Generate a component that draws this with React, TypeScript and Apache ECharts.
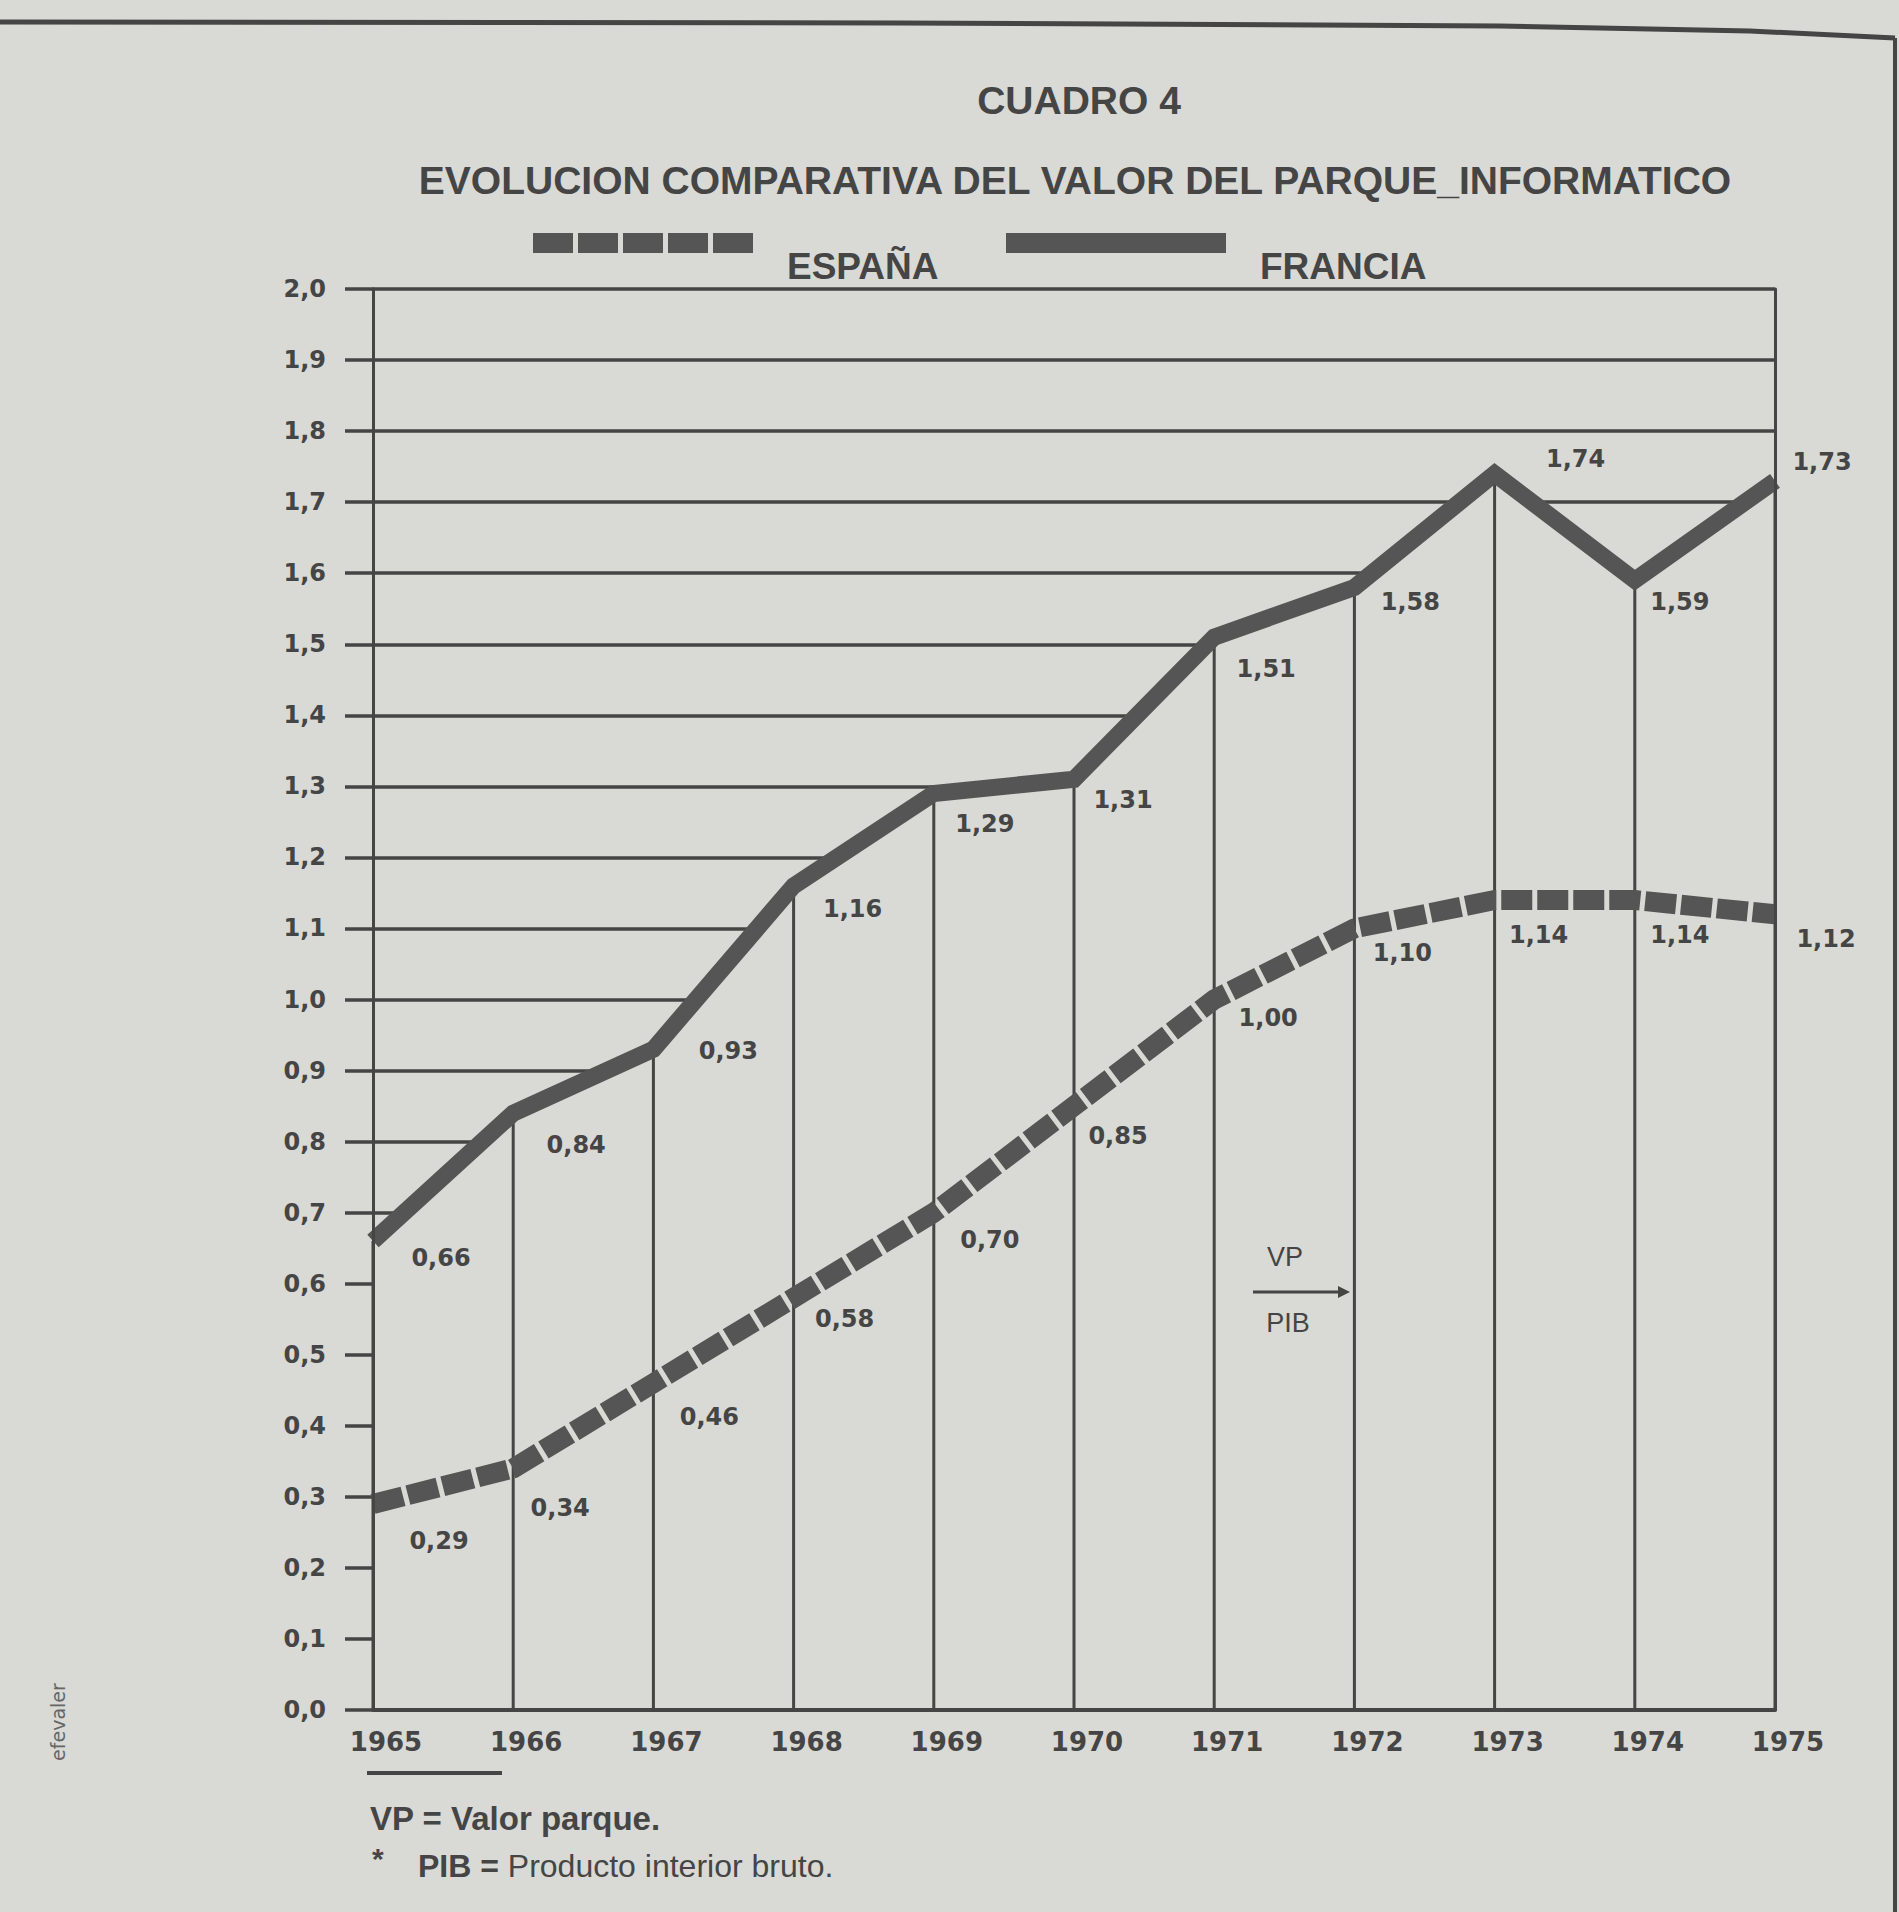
import React, { useEffect, useRef } from 'react';
import * as echarts from 'echarts';

// ---------- data ----------
const years = ['1965', '1966', '1967', '1968', '1969', '1970', '1971', '1972', '1973', '1974', '1975'];
const franciaValues = [0.66, 0.84, 0.93, 1.16, 1.29, 1.31, 1.51, 1.58, 1.74, 1.59, 1.73];
const espanaValues = [0.29, 0.34, 0.46, 0.58, 0.70, 0.85, 1.00, 1.10, 1.14, 1.14, 1.12];
const yTickLabels = ['0,0', '0,1', '0,2', '0,3', '0,4', '0,5', '0,6', '0,7', '0,8', '0,9', '1,0',
  '1,1', '1,2', '1,3', '1,4', '1,5', '1,6', '1,7', '1,8', '1,9', '2,0'];

// label nudges (pixels, relative to the point)
const franciaLabelOffsets = [[68, 17], [63, 32], [75, 2], [59, 23], [51, 31], [49, 21], [52, 32], [56, 15], [81, -15], [45, 22], [47, -19]];
const espanaLabelOffsets = [[66, 37], [47, 40], [56, 34], [51, 21], [56, 27], [44, 30], [54, 18], [48, 25], [44, 35], [45, 35], [51, 25]];

const BG = '#d9d9d5';
const INK = '#454545';
const LINE = '#555555';
const NUM_FONT = 'DejaVu Sans';
const TXT_FONT = 'Liberation Sans';

const fmt = (v: number) => v.toFixed(2).replace('.', ',');

const dashedIcon = 'path://M0 0H40V20H0Z M45 0H85V20H45Z M90 0H130V20H90Z M135 0H175V20H135Z M180 0H220V20H180Z';

function buildOption() {
  const numLabel = {
    show: true,
    position: 'inside',
    fontFamily: NUM_FONT,
    fontWeight: 'bold',
    fontSize: 24,
    color: INK,
  };
  const legendCommon = {
    top: 233,
    itemWidth: 220,
    itemHeight: 20,
    padding: 0,
    selectedMode: false,
    itemStyle: { color: LINE, borderWidth: 0 },
    formatter: (name: string) => `{t|${name}}`,
    textStyle: {
      fontFamily: TXT_FONT,
      fontWeight: 'bold',
      fontSize: 37,
      color: INK,
      rich: {
        t: {
          fontFamily: TXT_FONT,
          fontWeight: 'bold',
          fontSize: 37,
          color: INK,
          padding: [46, 0, 0, 29],
        },
      },
    },
  };
  const borderAxis = (position: string) => ({
    type: 'value',
    min: 0,
    max: 2,
    position,
    axisLine: { show: true, lineStyle: { color: INK, width: 3 } },
    axisTick: { show: false },
    axisLabel: { show: false },
    splitLine: { show: false },
    z: 5,
  });
  return {
    animation: false,
    backgroundColor: BG,
    title: [
      {
        text: 'CUADRO 4',
        left: 1079,
        top: 81,
        padding: 0,
        textAlign: 'center',
        textStyle: { fontFamily: TXT_FONT, fontWeight: 'bold', fontSize: 39, color: INK },
      },
      {
        text: 'EVOLUCION COMPARATIVA DEL VALOR DEL PARQUE_INFORMATICO',
        left: 1075,
        top: 161,
        padding: 0,
        textAlign: 'center',
        textStyle: { fontFamily: TXT_FONT, fontWeight: 'bold', fontSize: 39, color: INK },
      },
    ],
    legend: [
      { ...legendCommon, left: 533, data: [{ name: 'ESPAÑA', icon: dashedIcon }] },
      { ...legendCommon, left: 1006, data: [{ name: 'FRANCIA', icon: 'rect' }] },
    ],
    grid: { left: 373, right: 124, top: 289, bottom: 202, containLabel: false },
    xAxis: {
      type: 'category',
      data: years,
      boundaryGap: false,
      axisLine: { show: true, lineStyle: { color: INK, width: 4 } },
      axisTick: { show: false },
      splitLine: { show: false },
      axisLabel: {
        interval: 0,
        margin: 19,
        padding: [0, 0, 0, 26],
        fontFamily: NUM_FONT,
        fontWeight: 'bold',
        fontSize: 26,
        color: INK,
      },
      z: 5,
    },
    yAxis: [
      {
        type: 'value',
        min: 0,
        max: 2,
        interval: 0.1,
        axisLine: { show: true, lineStyle: { color: INK, width: 3 } },
        axisTick: { show: true, length: 28, lineStyle: { color: INK, width: 3.5 } },
        axisLabel: {
          margin: 47,
          fontFamily: NUM_FONT,
          fontWeight: 'bold',
          fontSize: 24,
          color: INK,
          formatter: (v: number) => yTickLabels[Math.round(v * 10)],
        },
        splitLine: { show: true, lineStyle: { color: INK, width: 3.5 } },
        z: 0,
      },
      borderAxis('left'),
      borderAxis('right'),
    ],
    series: [
      {
        name: 'fondo',
        type: 'line',
        data: franciaValues,
        symbol: 'none',
        lineStyle: { width: 0 },
        areaStyle: { color: BG, opacity: 1 },
        silent: true,
        z: 1,
      },
      {
        name: 'verticales',
        type: 'bar',
        data: franciaValues,
        barWidth: 3,
        itemStyle: { color: INK },
        silent: true,
        z: 2,
      },
      {
        name: 'ESPAÑA',
        type: 'line',
        data: espanaValues.map((v, i) => ({ value: v, label: { offset: espanaLabelOffsets[i] } })),
        symbol: 'circle',
        symbolSize: 1,
        itemStyle: { color: LINE },
        lineStyle: { color: LINE, width: 20, type: [31, 5], cap: 'butt', join: 'round' },
        label: { ...numLabel, formatter: (p: any) => fmt(p.value) },
        z: 3,
      },
      {
        name: 'FRANCIA',
        type: 'line',
        data: franciaValues.map((v, i) => ({ value: v, label: { offset: franciaLabelOffsets[i] } })),
        symbol: 'circle',
        symbolSize: 1,
        itemStyle: { color: LINE },
        lineStyle: { color: LINE, width: 17, type: 'solid', cap: 'butt', join: 'miter' },
        label: { ...numLabel, formatter: (p: any) => fmt(p.value) },
        z: 3,
      },
    ],
    graphic: [
      {
        type: 'polyline',
        shape: { points: [[0, 22], [900, 23], [1500, 26], [1750, 31], [1895, 38]] },
        style: { stroke: INK, lineWidth: 5, fill: null },
        z: 10,
      },
      {
        type: 'line',
        shape: { x1: 1895, y1: 38, x2: 1895, y2: 1912 },
        style: { stroke: INK, lineWidth: 4 },
        z: 10,
      },
      {
        type: 'line',
        shape: { x1: 367, y1: 1773, x2: 502, y2: 1773 },
        style: { stroke: INK, lineWidth: 4 },
        z: 10,
      },
      {
        type: 'text',
        x: 1285,
        y: 1257,
        style: {
          text: 'VP',
          fontFamily: TXT_FONT,
          fontSize: 27,
          fill: INK,
          textAlign: 'center',
          textVerticalAlign: 'middle',
        },
        z: 10,
      },
      {
        type: 'line',
        shape: { x1: 1253, y1: 1292, x2: 1340, y2: 1292 },
        style: { stroke: INK, lineWidth: 3 },
        z: 10,
      },
      {
        type: 'polygon',
        shape: { points: [[1338, 1286], [1350, 1292], [1338, 1298]] },
        style: { fill: INK },
        z: 10,
      },
      {
        type: 'text',
        x: 1288,
        y: 1323,
        style: {
          text: 'PIB',
          fontFamily: TXT_FONT,
          fontSize: 27,
          fill: INK,
          textAlign: 'center',
          textVerticalAlign: 'middle',
        },
        z: 10,
      },
      {
        type: 'text',
        x: 370,
        y: 1818,
        style: {
          text: 'VP = Valor parque.',
          fontFamily: TXT_FONT,
          fontWeight: 'bold',
          fontSize: 33,
          fill: INK,
          textAlign: 'left',
          textVerticalAlign: 'middle',
        },
        z: 10,
      },
      {
        type: 'text',
        x: 372,
        y: 1858,
        style: {
          text: '*',
          fontFamily: TXT_FONT,
          fontWeight: 'bold',
          fontSize: 30,
          fill: INK,
          textAlign: 'left',
          textVerticalAlign: 'middle',
        },
        z: 10,
      },
      {
        type: 'text',
        x: 418,
        y: 1866,
        style: {
          text: '{b|PIB =} Producto interior bruto.',
          fontFamily: TXT_FONT,
          fontSize: 32,
          fill: INK,
          textAlign: 'left',
          textVerticalAlign: 'middle',
          rich: {
            b: { fontFamily: TXT_FONT, fontWeight: 'bold', fontSize: 32, fill: INK },
          },
        },
        z: 10,
      },
      {
        type: 'text',
        x: 58,
        y: 1722,
        rotation: Math.PI / 2,
        style: {
          text: 'efevaler',
          fontFamily: NUM_FONT,
          fontSize: 19,
          fill: '#666666',
          textAlign: 'center',
          textVerticalAlign: 'middle',
        },
        z: 10,
      },
    ],
  };
}

export default function App() {
  const ref = useRef<HTMLDivElement>(null);
  useEffect(() => {
    document.body.style.margin = '0';
    const chart = echarts.init(ref.current as HTMLDivElement, null, { renderer: 'svg' });
    chart.setOption(buildOption() as any);
    return () => {
      chart.dispose();
    };
  }, []);
  return <div ref={ref} style={{ width: 1899, height: 1912 }} />;
}
